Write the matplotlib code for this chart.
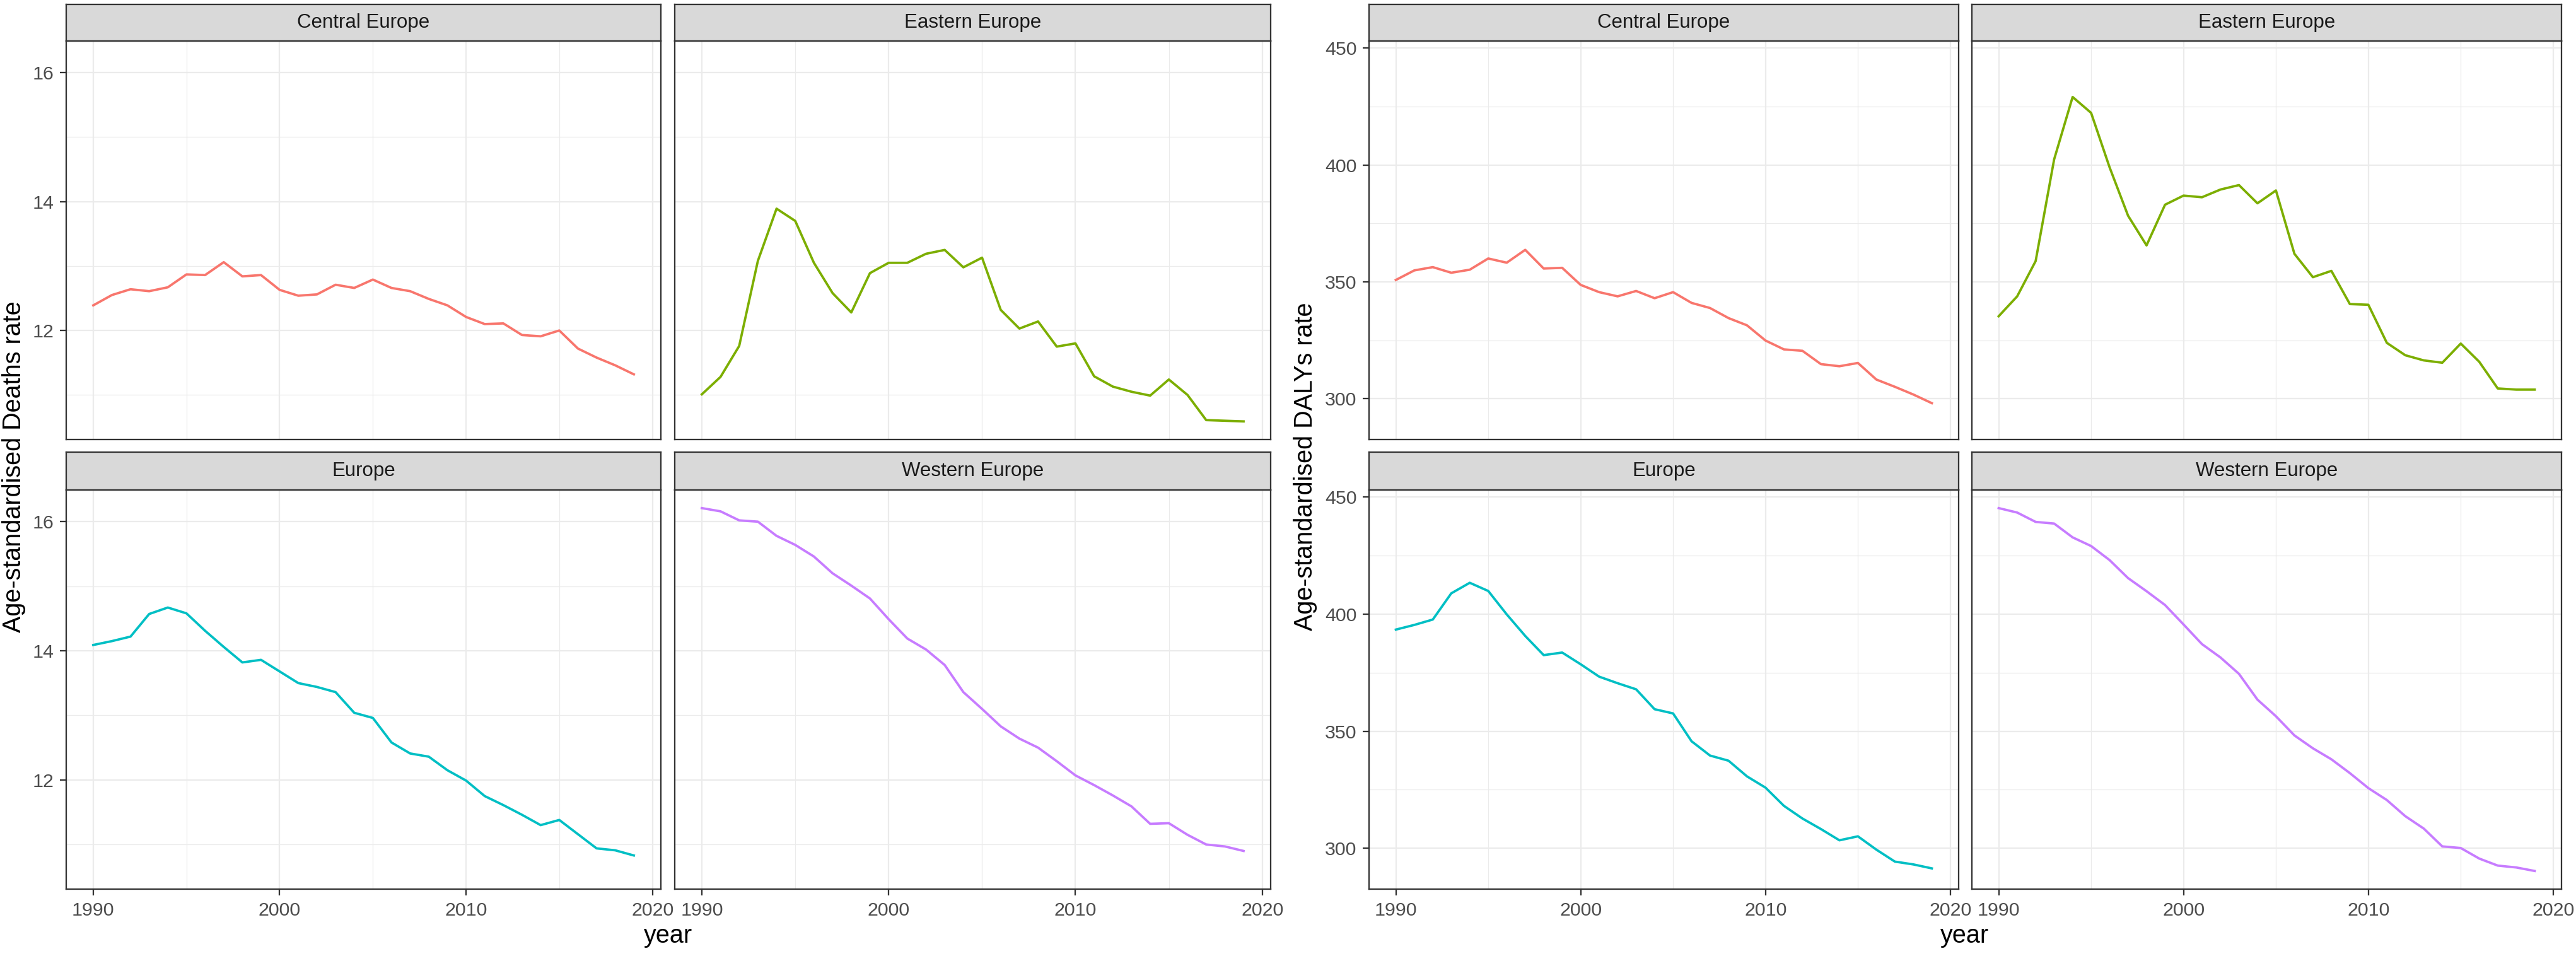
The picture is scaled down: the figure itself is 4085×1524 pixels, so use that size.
import matplotlib
matplotlib.use("Agg")
import matplotlib.pyplot as plt
from matplotlib.ticker import FixedLocator

plt.rcParams['font.family'] = ['Liberation Sans', 'DejaVu Sans']

years = list(range(1990, 2020))
regions = ["Central Europe", "Eastern Europe", "Europe", "Western Europe"]
colors = ["#F8766D", "#7CAE00", "#00BFC4", "#C77CFF"]

deaths_central = [12.39, 12.55, 12.64, 12.61, 12.67, 12.87, 12.86, 13.06, 12.84, 12.86,
                  12.63, 12.54, 12.56, 12.71, 12.66, 12.79, 12.66, 12.61, 12.49, 12.39,
                  12.21, 12.10, 12.11, 11.93, 11.91, 12.00, 11.72, 11.58, 11.46, 11.32]
deaths_eastern = [11.01, 11.28, 11.76, 13.08, 13.89, 13.70, 13.05, 12.58, 12.28, 12.89,
                  13.05, 13.05, 13.19, 13.25, 12.98, 13.13, 12.32, 12.03, 12.14, 11.75,
                  11.80, 11.29, 11.13, 11.05, 10.99, 11.24, 11.00, 10.61, 10.60, 10.59]
deaths_europe = [14.09, 14.15, 14.22, 14.57, 14.67, 14.58, 14.31, 14.06, 13.82, 13.86,
                 13.68, 13.50, 13.44, 13.36, 13.04, 12.96, 12.58, 12.41, 12.36, 12.15,
                 11.99, 11.75, 11.61, 11.46, 11.30, 11.38, 11.16, 10.94, 10.91, 10.83]
deaths_western = [16.21, 16.16, 16.02, 16.00, 15.78, 15.64, 15.46, 15.20, 15.01, 14.81,
                  14.49, 14.19, 14.02, 13.78, 13.36, 13.10, 12.83, 12.64, 12.50, 12.29,
                  12.07, 11.92, 11.76, 11.59, 11.32, 11.33, 11.15, 11.00, 10.97, 10.90]

dalys_central = [350.8, 354.9, 356.3, 353.9, 355.2, 360.0, 358.2, 363.7, 355.7, 356.0,
                 348.7, 345.6, 343.8, 346.1, 343.0, 345.6, 341.0, 338.8, 334.5, 331.4,
                 324.9, 321.1, 320.5, 314.8, 313.9, 315.3, 308.2, 305.1, 301.8, 298.1]
dalys_eastern = [335.3, 343.8, 358.9, 402.4, 429.1, 422.3, 399.0, 378.3, 365.6, 383.0,
                 386.9, 386.2, 389.5, 391.4, 383.6, 389.1, 362.0, 352.0, 354.7, 340.5,
                 340.2, 323.9, 318.6, 316.4, 315.4, 323.6, 315.8, 304.4, 303.9, 303.9]
dalys_europe = [393.4, 395.4, 397.7, 408.9, 413.4, 409.9, 399.9, 390.7, 382.5, 383.6,
                378.6, 373.3, 370.5, 367.9, 359.4, 357.6, 345.7, 339.6, 337.4, 330.7,
                325.9, 318.1, 312.7, 308.2, 303.4, 305.1, 299.4, 294.3, 293.1, 291.4]
dalys_western = [445.3, 443.4, 439.4, 438.7, 432.8, 429.1, 423.1, 415.4, 409.8, 403.9,
                 395.6, 387.2, 381.5, 374.5, 363.5, 356.4, 348.2, 342.7, 338.0, 332.1,
                 325.7, 320.6, 313.7, 308.4, 300.8, 300.1, 295.6, 292.6, 291.8, 290.3]

x_major = [1990, 2000, 2010, 2020]
x_minor = [1995, 2005, 2015]
deaths_major = [12, 14, 16]
deaths_minor = [11, 13, 15]
dalys_major = [300, 350, 400, 450]
dalys_minor = [325, 375, 425]

W, H = 4085, 1524
DPI = 300
fig = plt.figure(figsize=(W / DPI, H / DPI), dpi=DPI)
fig.patch.set_facecolor("white")


def rect(x0, y0, x1, y1):
    return [x0 / W, 1 - y1 / H, (x1 - x0) / W, (y1 - y0) / H]


BORDER = "#333333"
TICKC = "#4D4D4D"
GRID = "#EBEBEB"


def draw_block(series, ylabel, ymajor, yminor, cols_x, ylabel_x, xlabel_x):
    rows_y = [(7, 65, 697), (717, 777, 1410)]
    ymin = min(min(s) for s in series)
    ymax = max(max(s) for s in series)
    span = ymax - ymin
    ylim = (ymin - 0.05 * span, ymax + 0.05 * span)
    xlim = (1990 - 0.05 * 29, 2019 + 0.05 * 29)
    k = 0
    for r, (sy0, py0, py1) in enumerate(rows_y):
        for c, (px0, px1) in enumerate(cols_x):
            ax = fig.add_axes(rect(px0, py0, px1, py1))
            ax.set_facecolor("white")
            ax.xaxis.set_major_locator(FixedLocator(x_major))
            ax.xaxis.set_minor_locator(FixedLocator(x_minor))
            ax.yaxis.set_major_locator(FixedLocator(ymajor))
            ax.yaxis.set_minor_locator(FixedLocator(yminor))
            ax.grid(which="major", color=GRID, linewidth=0.55, zorder=0)
            ax.grid(which="minor", color=GRID, linewidth=0.3, zorder=0)
            ax.set_axisbelow(True)
            ax.plot(years, series[k], color=colors[k], linewidth=0.9, zorder=3,
                    solid_joinstyle="round")
            ax.set_xlim(*xlim)
            ax.set_ylim(*ylim)
            for sp in ax.spines.values():
                sp.set_color(BORDER)
                sp.set_linewidth(0.55)
            ax.tick_params(which="minor", length=0)
            ax.tick_params(which="major", length=2.5, width=0.55, color=BORDER,
                           labelsize=7.3, labelcolor=TICKC, pad=2.2)
            if c != 0:
                ax.tick_params(axis="y", which="major", length=0, labelleft=False)
            if r != 1:
                ax.tick_params(axis="x", which="major", length=0, labelbottom=False)
            # strip
            sax = fig.add_axes(rect(px0, sy0, px1, py0))
            sax.set_facecolor("#D9D9D9")
            sax.set_xticks([])
            sax.set_yticks([])
            for sp in sax.spines.values():
                sp.set_color(BORDER)
                sp.set_linewidth(0.55)
            sax.text(0.5, 0.5, regions[k], ha="center", va="center",
                     fontsize=7.5, color="#1A1A1A", transform=sax.transAxes)
            k += 1
    fig.text(ylabel_x / W, 1 - 740 / H, ylabel, rotation=90, ha="center",
             va="center", fontsize=9.5, color="black")
    fig.text(xlabel_x / W, 1 - 1484 / H, "year", ha="center", va="center",
             fontsize=9.5, color="black")


draw_block([deaths_central, deaths_eastern, deaths_europe, deaths_western],
           "Age-standardised Deaths rate", deaths_major, deaths_minor,
           [(105, 1048), (1070, 2015)], 22, 1060)
draw_block([dalys_central, dalys_eastern, dalys_europe, dalys_western],
           "Age-standardised DALYs rate", dalys_major, dalys_minor,
           [(2171, 3106), (3127, 4062)], 2070, 3116)

fig.savefig("out.png", dpi=DPI, facecolor="white")
